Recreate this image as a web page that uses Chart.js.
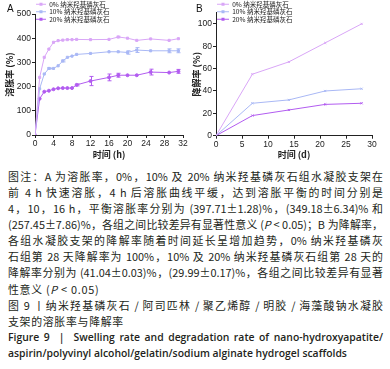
<!DOCTYPE html>
<html lang="zh-CN">
<head>
<meta charset="UTF-8" />
<title>图 9 纳米羟基磷灰石水凝胶支架的溶胀率与降解率</title>
<script src="https://cdn.jsdelivr.net/npm/chart.js"></script>
<style>
  body { margin: 0; width: 390px; height: 369px; background: #fff; position: relative; overflow: hidden;
         font-family: "Noto Sans CJK SC", sans-serif; color: #231f20; }
  .panel { position: absolute; top: 0; height: 162px; }
  #panelA { left: 0; width: 195px; }
  #panelB { left: 188px; width: 202px; }
  .tag { position: absolute; top: 3px; font: 10px "Liberation Sans", Arial, sans-serif; color: #111; }
  .caption { position: absolute; left: 8px; top: 167.6px; width: 375px; font-size: 10.9px; line-height: 16.15px; }
  .caption div { text-align: justify; text-align-last: justify; height: 16.15px; }
  .caption div.last { text-align-last: left; letter-spacing: 0.7px; }
  .caption .en { font-family: "Open Sans", sans-serif; font-weight: 600; font-size: 10.4px; }
  .caption .en.last { letter-spacing: 0; }
</style>
</head>
<body>
  <div class="panel" id="panelA"><canvas id="swellChart"></canvas></div>
  <div class="panel" id="panelB"><canvas id="degradeChart"></canvas></div>
  <div class="tag" style="left:7px">A</div>
  <div class="tag" style="left:196px">B</div>

  <div class="caption">
    <div>图注：A 为溶胀率，0%，10% 及 20% 纳米羟基磷灰石组水凝胶支架在</div>
    <div>前 4 h 快速溶胀，4 h 后溶胀曲线平缓，达到溶胀平衡的时间分别是</div>
    <div>4，10，16 h，平衡溶胀率分别为 (397.71±1.28)%，(349.18±6.34)% 和</div>
    <div>(257.45±7.86)%，各组之间比较差异有显著性意义 (<i>P</i> &lt; 0.05)；B 为降解率，</div>
    <div>各组水凝胶支架的降解率随着时间延长呈增加趋势，0% 纳米羟基磷灰</div>
    <div>石组第 28 天降解率为 100%，10% 及 20% 纳米羟基磷灰石组第 28 天的</div>
    <div>降解率分别为 (41.04±0.03)%，(29.99±0.17)%，各组之间比较差异有显著</div>
    <div class="last">性意义 (<i>P</i> &lt; 0.05)</div>
    <div>图 9 丨纳米羟基磷灰石 / 阿司匹林 / 聚乙烯醇 / 明胶 / 海藻酸钠水凝胶</div>
    <div class="last">支架的溶胀率与降解率</div>
    <div class="en">Figure 9 &nbsp;|&nbsp; Swelling rate and degradation rate of nano-hydroxyapatite/</div>
    <div class="en last">aspirin/polyvinyl alcohol/gelatin/sodium alginate hydrogel scaffolds</div>
  </div>

<script>
  // group names
  const groups = ['0% 纳米羟基磷灰石', '10% 纳米羟基磷灰石', '20% 纳米羟基磷灰石'];
  const colors = ['#d9a6f7', '#a9b8f5', '#b25cf0'];

  // A: swelling rate (%) vs time (h)
  const hours = [0, 1, 2, 3, 4, 5, 6, 7, 8, 9, 12, 16, 18, 20, 22, 25, 29, 31];
  const swell0 = [0, 238, 321, 355, 383, 390, 392, 394, 394, 395, 394, 395, 405, 400, 391, 397, 391, 398];
  const swell10 = [0, 191, 252, 275, 275, 286, 306, 321, 326, 333, 337, 344, 344, 341, 351, 348, 348, 348];
  const swell20 = [0, 150, 179, 183, 189, 193, 194, 194, 194, 207, 223, 238, 247, 247, 247, 260, 258, 263];
  const swellErr0 = [0, 0, 0, 0, 0, 0, 0, 0, 0, 0, 0, 0, 3, 0, 0, 0, 0, 0];
  const swellErr10 = [0, 0, 0, 3, 0, 0, 4, 0, 0, 0, 0, 0, 0, 7, 10, 0, 8, 8];
  const swellErr20 = [0, 0, 0, 0, 0, 0, 0, 0, 0, 4, 19, 14, 8, 0, 0, 12, 0, 8];
  const hourTicks = [0, 4, 8, 12, 16, 20, 24, 28, 32];
  const swellTicks = [0, 100, 200, 300, 400, 500];

  // B: degradation rate (%) vs time (d)
  const days = [0, 7, 14, 21, 28];
  const degrade0 = [0, 55, 66, 83, 100];
  const degrade10 = [0, 29, 32, 40, 42];
  const degrade20 = [0, 18, 23, 28, 29];
  const dayTicks = [0, 5, 10, 15, 20, 25, 30];
  const degradeTicks = [0, 20, 40, 60, 80, 100];

  const tickFont = { family: '"Liberation Sans", Arial, sans-serif', size: 8.5 };
  const titleFont = { family: '"Noto Sans CJK SC", sans-serif', size: 9, weight: 'bold' };
  const legendFont = { family: '"Noto Sans CJK SC", sans-serif', size: 6.5 };

  const toPoints = (xs, ys) => xs.map((x, i) => ({ x, y: ys[i] }));

  // small line + marker icon for the legend
  function legendIcon(color, w) {
    const c = document.createElement('canvas');
    c.width = w; c.height = 5;
    const g = c.getContext('2d');
    g.strokeStyle = color; g.lineWidth = 1;
    g.beginPath(); g.moveTo(0, 2.5); g.lineTo(w, 2.5); g.stroke();
    g.fillStyle = color;
    g.fillRect(w / 2 - 1.5, 1, 3, 3);
    return c;
  }

  const errorBars = {
    id: 'errorBars',
    afterDatasetsDraw(chart) {
      const { ctx, scales: { x, y } } = chart;
      chart.data.datasets.forEach(ds => {
        if (!ds.errors) return;
        ctx.save();
        ctx.strokeStyle = ds.borderColor;
        ctx.lineWidth = 1;
        ds.data.forEach((p, j) => {
          const e = ds.errors[j];
          if (!e) return;
          const px = Math.round(x.getPixelForValue(p.x)) + 0.5;
          const top = y.getPixelForValue(p.y + e);
          const bot = y.getPixelForValue(p.y - e);
          ctx.beginPath();
          ctx.moveTo(px, top); ctx.lineTo(px, bot);
          ctx.moveTo(px - 2, top); ctx.lineTo(px + 2, top);
          ctx.moveTo(px - 2, bot); ctx.lineTo(px + 2, bot);
          ctx.stroke();
        });
        ctx.restore();
      });
    }
  };

  function axis(min, max, ticks, title, titlePad, size, isY) {
    return {
      type: 'linear', min, max,
      afterBuildTicks: scale => { scale.ticks = ticks.map(v => ({ value: v })); },
      afterFit: scale => { if (isY) scale.width = size; else scale.height = size; },
      grid: { drawOnChartArea: false, drawTicks: true, tickLength: 3, tickColor: '#222' },
      border: { color: '#222', width: 1 },
      ticks: { font: tickFont, color: '#222', padding: 1, autoSkip: false, maxRotation: 0 },
      title: { display: true, text: title, font: titleFont, color: '#222', padding: titlePad }
    };
  }

  function options(x, y, padding, iconW) {
    return {
      responsive: true,
      maintainAspectRatio: false,
      animation: false,
      layout: { padding },
      scales: { x, y },
      plugins: {
        tooltip: { enabled: false },
        legend: {
          position: 'chartArea',
          align: 'start',
          labels: {
            usePointStyle: true,
            pointStyleWidth: iconW,
            boxHeight: 5,
            padding: 1,
            font: legendFont,
            color: '#222',
            generateLabels(chart) {
              const items = Chart.defaults.plugins.legend.labels.generateLabels(chart);
              items.forEach((it, i) => { it.pointStyle = legendIcon(colors[i], iconW); });
              return items;
            }
          }
        }
      }
    };
  }

  function lineSet(i, xs, ys, errs, style) {
    return {
      label: groups[i],
      data: toPoints(xs, ys),
      errors: errs,
      borderColor: colors[i],
      backgroundColor: colors[i],
      borderWidth: 1,
      pointStyle: style,
      pointRadius: 1.5,
      pointBorderWidth: 1,
      tension: 0
    };
  }

  new Chart(document.getElementById('swellChart'), {
    type: 'line',
    data: {
      datasets: [
        lineSet(0, hours, swell0, swellErr0, 'rect'),
        lineSet(1, hours, swell10, swellErr10, 'rect'),
        lineSet(2, hours, swell20, swellErr20, 'circle')
      ]
    },
    options: options(
      axis(0, 32, hourTicks, '时间 (h)', { top: 0, bottom: 2 }, 27, false),
      axis(0, 500, swellTicks, '溶胀率 (%)', { top: 4.6, bottom: 0 }, 35, true),
      { left: 0, top: 14, right: 12, bottom: 0 }, 10),
    plugins: [errorBars]
  });

  new Chart(document.getElementById('degradeChart'), {
    type: 'line',
    data: {
      datasets: [
        lineSet(0, days, degrade0, null, 'crossRot'),
        lineSet(1, days, degrade10, null, 'crossRot'),
        lineSet(2, days, degrade20, null, 'crossRot')
      ]
    },
    options: options(
      axis(0, 30, dayTicks, '时间 (d)', { top: 0, bottom: 2 }, 26.3, false),
      axis(0, 110, degradeTicks, '降解率 (%)', { top: 3.6, bottom: 0 }, 28, true),
      { left: 0, top: 12.7, right: 18, bottom: 0 }, 12),
    plugins: [errorBars]
  });
</script>
</body>
</html>
